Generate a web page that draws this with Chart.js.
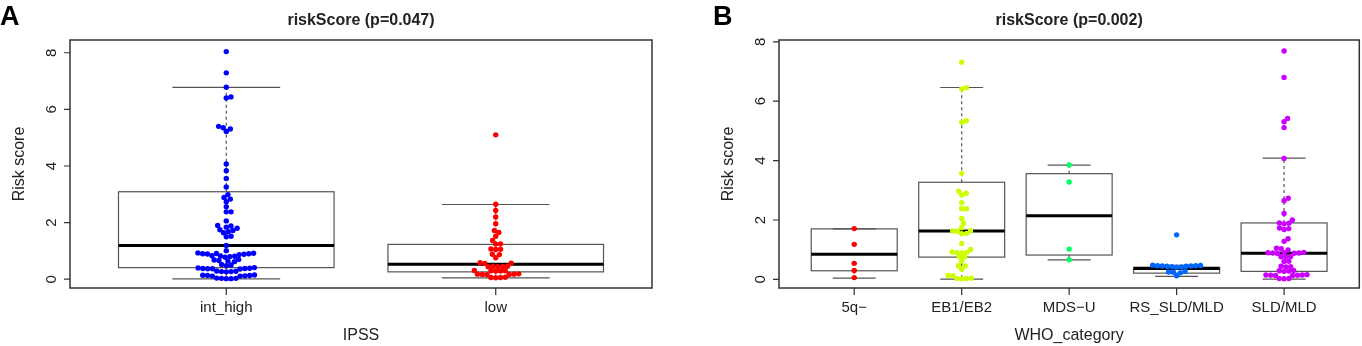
<!DOCTYPE html>
<html>
<head>
<meta charset="utf-8">
<script src="https://cdn.jsdelivr.net/npm/chart.js@4.4.1/dist/chart.umd.min.js"></script>
<style>
  body { margin: 0; background: #fff; width: 1362px; height: 346px; position: relative; overflow: hidden; font-family: "Liberation Sans", Arial, sans-serif; }
  .painel { position: absolute; top: 0; width: 681px; height: 346px; }
  .letra { position: absolute; top: 1px; font-weight: bold; font-size: 27px; color: #000; }
</style>
</head>
<body>
<div class="painel" style="left:0"><canvas id="graficoA" width="681" height="346"></canvas></div>
<div class="painel" style="left:681px"><canvas id="graficoB" width="681" height="346"></canvas></div>
<div class="letra" style="left:0">A</div>
<div class="letra" style="left:713px">B</div>
<script>
// painel A: IPSS
const ipssGrupos = ["int_high", "low"];
const ipssCores = ["#0000FF", "#FF0000"];
const ipssIntHigh = [8.04, 7.29, 6.78, 6.44, 6.40, 5.40, 5.35, 5.31, 5.22, 4.07, 3.83, 3.56, 3.26,
  2.99, 2.89, 2.83, 2.74, 2.56, 2.38, 2.38, 2.06, 1.90, 1.88, 1.84, 1.80, 1.75, 1.72, 1.68, 1.64,
  1.52, 1.50, 1.19, 1.01, 0.93, 0.92, 0.91, 0.90, 0.90, 0.89, 0.88, 0.87, 0.83, 0.82, 0.81, 0.80,
  0.78, 0.70, 0.68, 0.66, 0.64, 0.62, 0.52, 0.50, 0.48, 0.41, 0.40, 0.39, 0.38, 0.38, 0.37, 0.37,
  0.36, 0.29, 0.28, 0.27, 0.27, 0.26, 0.15, 0.14, 0.13, 0.13, 0.12, 0.11, 0.11,
  0.04, 0.03, 0.03, 0.02, 0.02];
const ipssLow = [5.10, 2.65, 2.43, 2.20, 1.96, 1.72, 1.65, 1.52, 1.37, 1.25, 1.24, 1.07, 1.06, 1.05,
  0.88, 0.87, 0.76, 0.58, 0.57, 0.56, 0.46, 0.45, 0.45, 0.44, 0.44, 0.31, 0.30, 0.30, 0.29, 0.29,
  0.19, 0.18, 0.18, 0.17, 0.17, 0.16, 0.07, 0.06, 0.06, 0.05];
// [bigode inf, Q1, mediana, Q3, bigode sup]
const ipssCaixas = [[0.01, 0.41, 1.19, 3.09, 6.78], [0.05, 0.26, 0.53, 1.23, 2.64]];

// painel B: WHO_category
const whoGrupos = ["5q−", "EB1/EB2", "MDS−U", "RS_SLD/MLD", "SLD/MLD"];
const whoCores = ["#FF0000", "#CCFF00", "#00FF66", "#0066FF", "#CC00FF"];
const who5q = [1.71, 1.18, 0.54, 0.30, 0.06];
const whoEB = [7.31, 6.45, 6.41, 5.34, 5.29, 3.57, 2.97, 2.90, 2.84, 2.58, 2.38, 2.38, 2.05, 1.89,
  1.74, 1.64, 1.63, 1.62, 1.55, 1.54, 1.21, 1.01, 0.92, 0.91, 0.90, 0.89, 0.76, 0.75, 0.62, 0.46,
  0.45, 0.34, 0.13, 0.12, 0.04, 0.03, 0.03, 0.02];
const whoMDSU = [3.85, 3.28, 1.02, 0.66];
const whoRS = [1.50, 0.48, 0.47, 0.46, 0.46, 0.45, 0.45, 0.44, 0.44, 0.43, 0.42, 0.41, 0.27, 0.25,
  0.24, 0.22, 0.12];
const whoSLD = [7.69, 6.80, 5.42, 5.31, 5.11, 4.07, 2.73, 2.65, 2.22, 2.00, 1.90, 1.89, 1.87, 1.73,
  1.71, 1.68, 1.37, 1.28, 1.05, 1.03, 0.99, 0.91, 0.90, 0.90, 0.89, 0.89, 0.88, 0.87, 0.77, 0.76,
  0.75, 0.61, 0.60, 0.44, 0.43, 0.42, 0.30, 0.29, 0.28, 0.27, 0.16, 0.15, 0.15, 0.14, 0.14, 0.13,
  0.13, 0.03, 0.03, 0.02];
const whoCaixas = [[0.04, 0.29, 0.85, 1.70, 1.70], [0.01, 0.75, 1.63, 3.27, 6.46],
  [0.66, 0.82, 2.14, 3.56, 3.85], [0.10, 0.21, 0.37, 0.41, 0.47], [0.01, 0.27, 0.88, 1.90, 4.08]];

const yTicks = [0, 2, 4, 6, 8];

Chart.defaults.font.family = '"Liberation Sans", Arial, sans-serif';
Chart.defaults.color = "#222";

function plugCaixas(caixas, titulo) {
  return {
    id: "caixas",
    beforeDatasetsDraw(chart) {
      const { ctx, chartArea, scales: { x, y } } = chart;
      ctx.save();
      caixas.forEach((c, i) => {
        const [lo, q1, med, q3, hi] = c;
        const cx = x.getPixelForValue(i + 1);
        const meia = x.getPixelForValue(i + 1.4) - cx;
        ctx.strokeStyle = "#555";
        ctx.lineWidth = 1.2;
        // bigodes tracejados
        ctx.setLineDash([3, 3]);
        ctx.beginPath();
        ctx.moveTo(cx, y.getPixelForValue(q3));
        ctx.lineTo(cx, y.getPixelForValue(hi));
        ctx.moveTo(cx, y.getPixelForValue(q1));
        ctx.lineTo(cx, y.getPixelForValue(lo));
        ctx.stroke();
        ctx.setLineDash([]);
        // hastes
        ctx.beginPath();
        [lo, hi].forEach((v) => {
          ctx.moveTo(cx - meia / 2, y.getPixelForValue(v));
          ctx.lineTo(cx + meia / 2, y.getPixelForValue(v));
        });
        ctx.stroke();
        // caixa
        const yt = y.getPixelForValue(q3);
        ctx.strokeRect(cx - meia, yt, meia * 2, y.getPixelForValue(q1) - yt);
        // mediana
        ctx.strokeStyle = "#000";
        ctx.lineWidth = 3;
        ctx.beginPath();
        ctx.moveTo(cx - meia, y.getPixelForValue(med));
        ctx.lineTo(cx + meia, y.getPixelForValue(med));
        ctx.stroke();
      });
      // moldura e tracos dos eixos
      ctx.strokeStyle = "#333";
      ctx.lineWidth = 1.5;
      ctx.strokeRect(chartArea.left, chartArea.top, chartArea.width, chartArea.height);
      ctx.lineWidth = 1.2;
      ctx.beginPath();
      x.ticks.forEach((t) => {
        const px = x.getPixelForValue(t.value);
        ctx.moveTo(px, chartArea.bottom);
        ctx.lineTo(px, chartArea.bottom + 7);
      });
      y.ticks.forEach((t) => {
        const py = y.getPixelForValue(t.value);
        ctx.moveTo(chartArea.left - 6, py);
        ctx.lineTo(chartArea.left, py);
      });
      ctx.stroke();
      // titulo
      ctx.fillStyle = "#222";
      ctx.font = 'bold 16px "Liberation Sans", Arial, sans-serif';
      ctx.textAlign = "center";
      ctx.textBaseline = "middle";
      ctx.fillText(titulo, (chartArea.left + chartArea.right) / 2, 21);
      ctx.restore();
    },
  };
}

// posicoes tipo beeswarm, em pixels
function enxame(ys, d) {
  const ordem = ys.map((_, i) => i).sort((a, b) => ys[b] - ys[a]);
  const postos = [];
  const xs = new Array(ys.length);
  ordem.forEach((i) => {
    const yi = ys[i];
    const perto = postos.filter((p) => Math.abs(p.y - yi) < d);
    const cands = [0];
    perto.forEach((p) => {
      const dx = Math.sqrt(d * d - (p.y - yi) ** 2);
      cands.push(p.x + dx, p.x - dx);
    });
    cands.sort((a, b) => Math.abs(a) - Math.abs(b));
    const ok = cands.find((c) => perto.every((p) => (p.x - c) ** 2 + (p.y - yi) ** 2 >= d * d - 0.01));
    xs[i] = ok;
    postos.push({ x: ok, y: yi });
  });
  return xs;
}

function criarGrafico(id, cfg) {
  const datasets = cfg.pontos.map((vals, i) => ({
    data: vals.map((v) => ({ x: i + 1, y: v })),
    backgroundColor: cfg.cores[i],
    borderWidth: 0,
    pointRadius: 2.7,
    pointHoverRadius: 2.7,
  }));
  const chart = new Chart(document.getElementById(id), {
    type: "scatter",
    data: { datasets },
    options: {
      responsive: false,
      animation: false,
      events: [],
      layout: { padding: { top: 40, left: cfg.padEsq, right: cfg.padDir, bottom: 0 } },
      plugins: { legend: { display: false }, tooltip: { enabled: false } },
      scales: {
        x: {
          type: "linear",
          min: cfg.xMin,
          max: cfg.xMax,
          afterBuildTicks: (s) => { s.ticks = cfg.grupos.map((_, i) => ({ value: i + 1 })); },
          afterFit: (s) => { s.height = 58; },
          ticks: { callback: (v) => cfg.grupos[v - 1], font: { size: 15 }, padding: 3, autoSkip: false, maxRotation: 0 },
          grid: { display: false },
          border: { display: false },
          title: { display: true, text: cfg.tituloX, font: { size: 16 }, padding: { top: 0, bottom: 1 } },
        },
        y: {
          min: cfg.yMin,
          max: cfg.yMax,
          afterBuildTicks: (s) => { s.ticks = yTicks.map((v) => ({ value: v })); },
          afterFit: (s) => { s.width = 70; },
          ticks: { minRotation: 90, maxRotation: 90, crossAlign: "center", font: { size: 15 }, padding: 6 },
          grid: { display: false },
          border: { display: false },
          title: { display: true, text: "Risk score", font: { size: 16 }, padding: { top: 10, bottom: 0 } },
        },
      },
    },
    plugins: [plugCaixas(cfg.caixas, cfg.titulo)],
  });

  const { x, y } = chart.scales;
  const pxUnid = x.getPixelForValue(1) - x.getPixelForValue(0);
  cfg.pontos.forEach((vals, i) => {
    const desloc = enxame(vals.map((v) => y.getPixelForValue(v)), 4.8);
    chart.data.datasets[i].data = vals.map((v, k) => ({ x: i + 1 + desloc[k] / pxUnid, y: v }));
  });
  chart.update("none");
  return chart;
}

criarGrafico("graficoA", {
  grupos: ipssGrupos, cores: ipssCores, pontos: [ipssIntHigh, ipssLow], caixas: ipssCaixas,
  titulo: "riskScore (p=0.047)", tituloX: "IPSS",
  xMin: 0.42, xMax: 2.58, yMin: -0.31, yMax: 8.45, padEsq: 0, padDir: 29,
});

criarGrafico("graficoB", {
  grupos: whoGrupos, cores: whoCores, pontos: [who5q, whoEB, whoMDSU, whoRS, whoSLD], caixas: whoCaixas,
  titulo: "riskScore (p=0.002)", tituloX: "WHO_category",
  xMin: 0.3, xMax: 5.7, yMin: -0.29, yMax: 8.06, padEsq: 28, padDir: 2,
});
</script>
</body>
</html>
